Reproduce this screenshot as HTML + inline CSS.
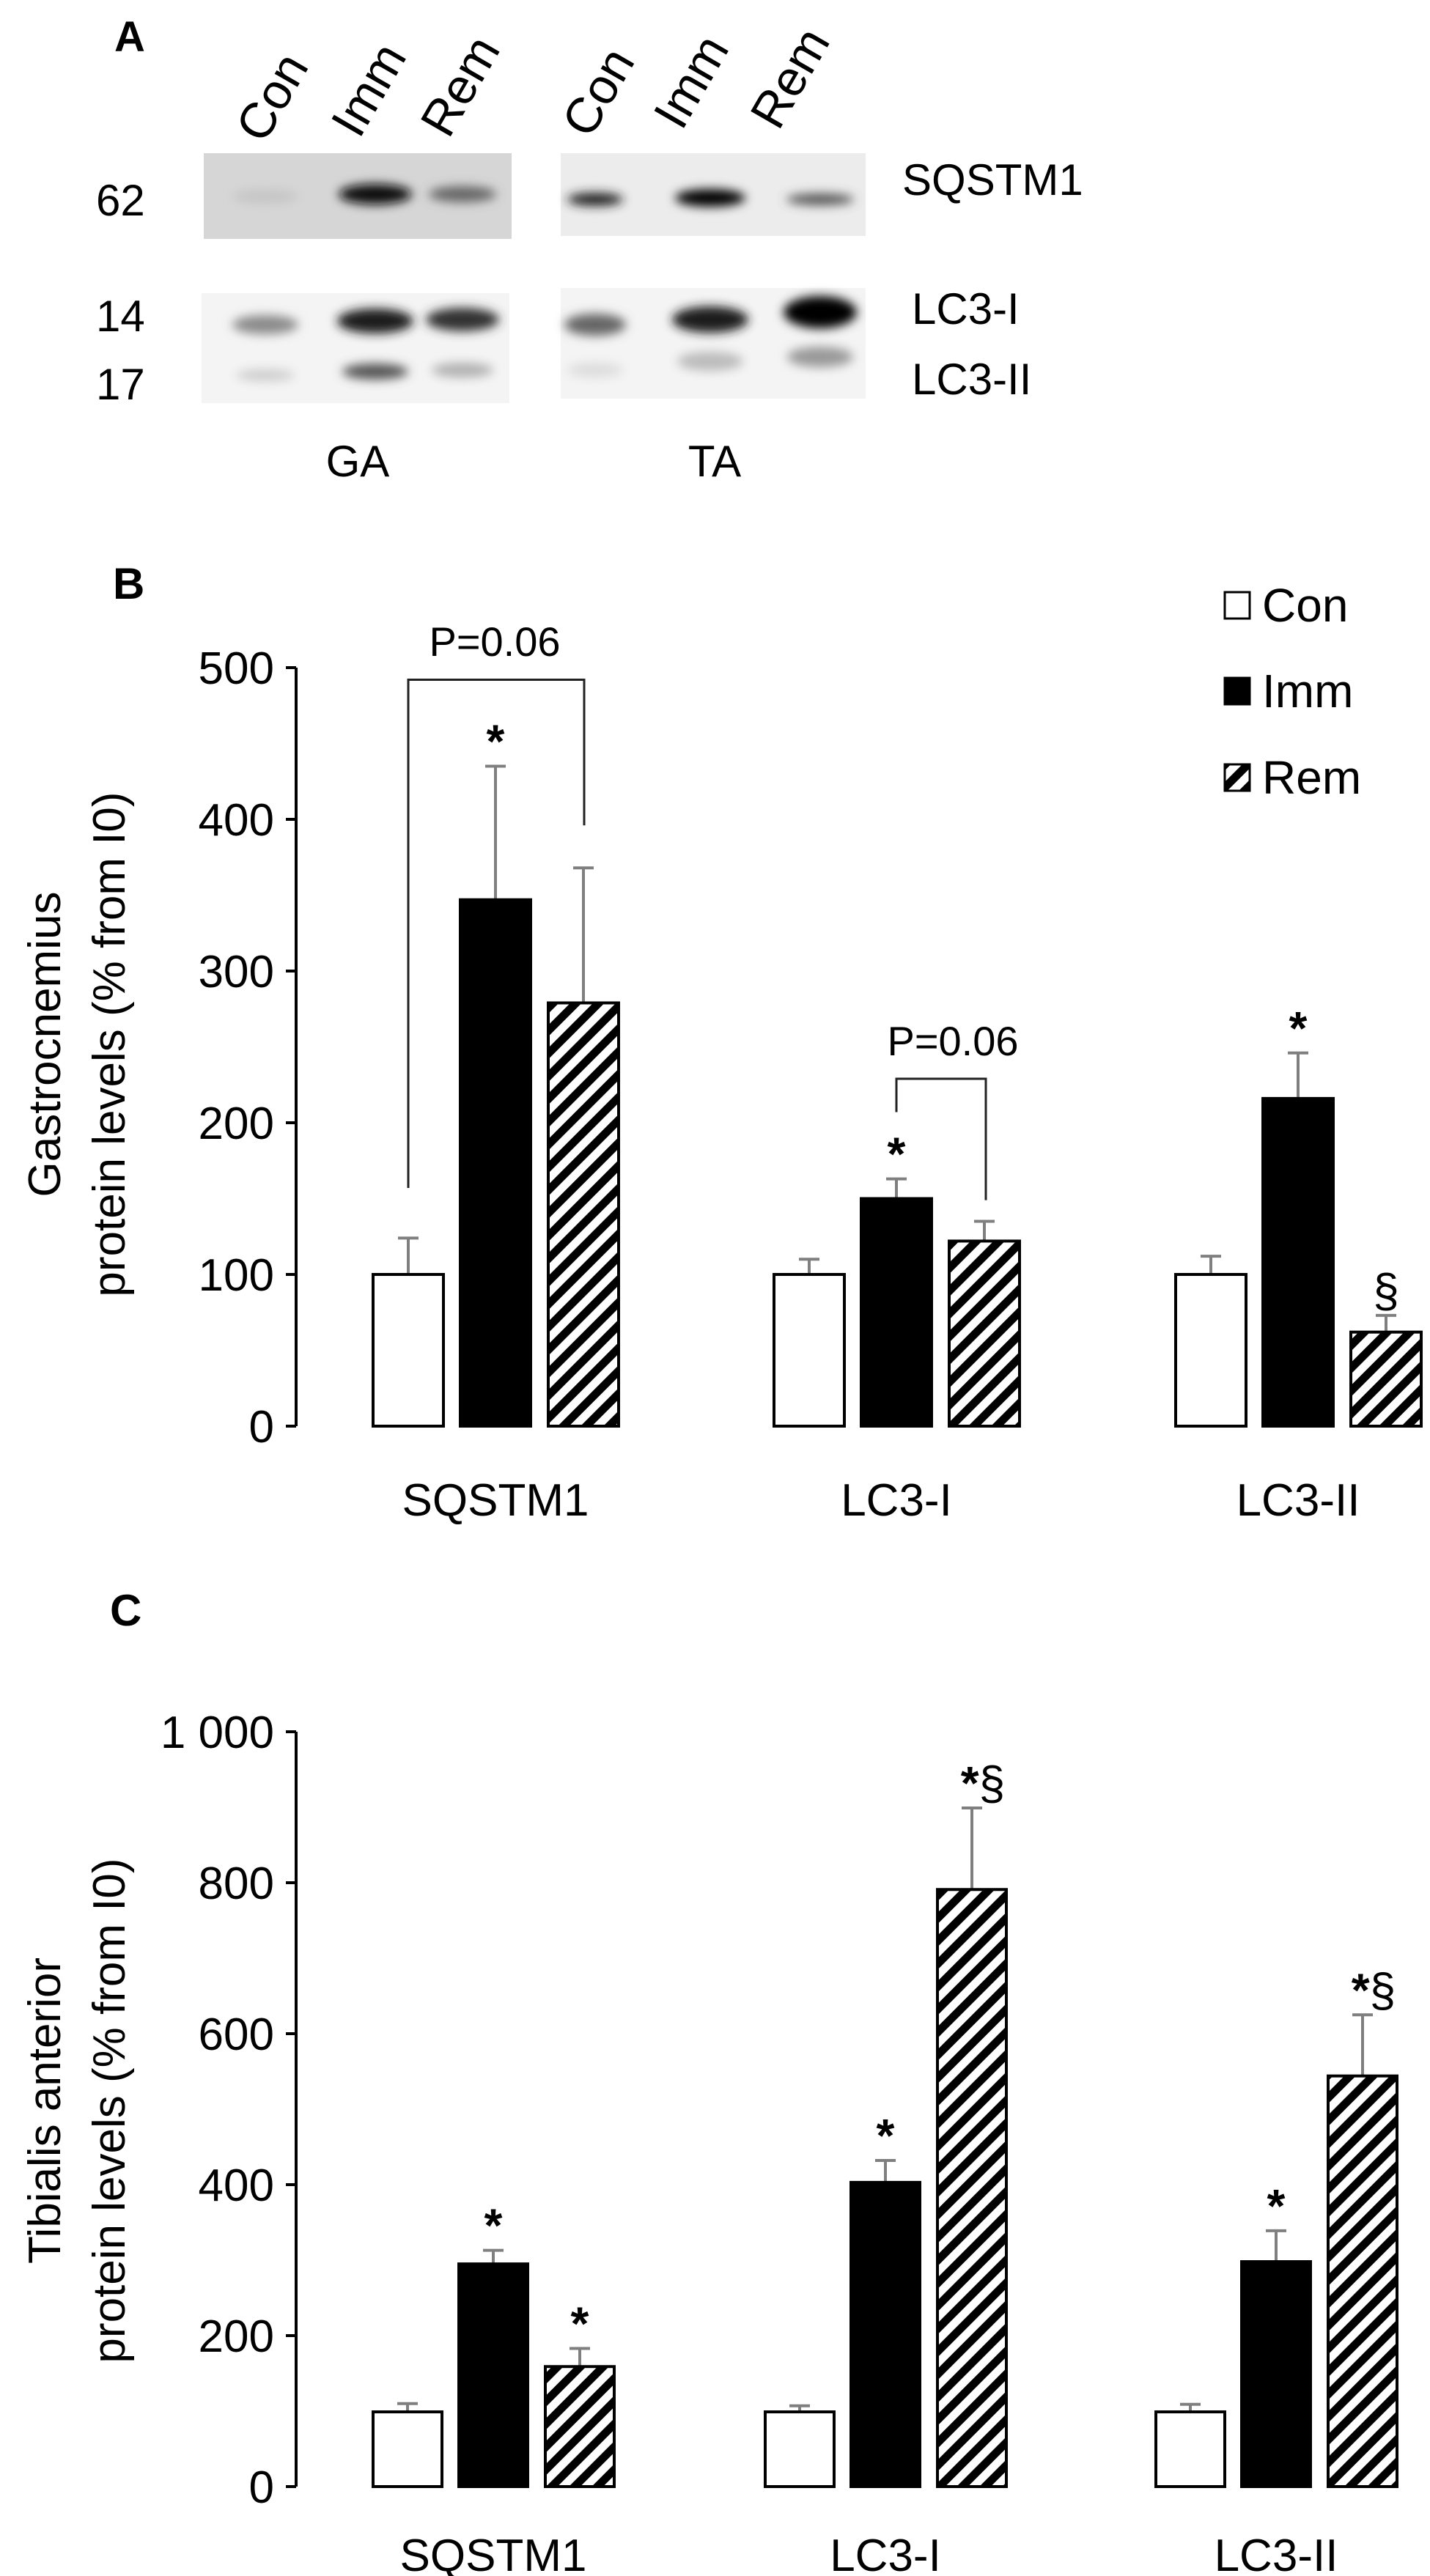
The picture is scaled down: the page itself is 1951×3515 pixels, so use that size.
<!DOCTYPE html>
<html><head><meta charset="utf-8">
<style>
html,body{margin:0;padding:0;background:#fff;}
svg{display:block;font-family:"Liberation Sans",sans-serif;}
</style></head>
<body>
<svg id="fig" width="1951" height="3515" viewBox="0 0 1951 3515" xmlns="http://www.w3.org/2000/svg">
<defs>
  <pattern id="hatch" patternUnits="userSpaceOnUse" width="22" height="22" patternTransform="rotate(45)">
    <rect width="22" height="22" fill="#fff"/>
    <rect x="0" y="0" width="11" height="22" fill="#000"/>
  </pattern>
  <filter id="blur6" x="-50%" y="-200%" width="200%" height="500%"><feGaussianBlur stdDeviation="7"/></filter>
</defs>

<!-- Panel A -->
<g>
  <text x="156" y="70" font-size="58" font-weight="bold">A</text>
  <g font-size="68">
    <text transform="translate(360,198) rotate(-60)">Con</text>
    <text transform="translate(490,191) rotate(-60)">Imm</text>
    <text transform="translate(612,191) rotate(-60)">Rem</text>
    <text transform="translate(805,191) rotate(-60)">Con</text>
    <text transform="translate(930,180) rotate(-60)">Imm</text>
    <text transform="translate(1062,180) rotate(-60)">Rem</text>
  </g>
  <g>
    <rect x="278" y="209" width="420" height="117" fill="#d6d6d6"/>
    <ellipse cx="362" cy="268" rx="45" ry="10" fill="#c6c6c6" filter="url(#blur6)"/>
    <ellipse cx="512" cy="265" rx="50" ry="14" fill="#111" filter="url(#blur6)"/>
    <ellipse cx="631" cy="265" rx="46" ry="11" fill="#666" filter="url(#blur6)"/>
  </g>
  <g>
    <rect x="765" y="209" width="416" height="113" fill="#ececec"/>
    <ellipse cx="812" cy="272" rx="38" ry="9" fill="#222" filter="url(#blur6)"/>
    <ellipse cx="969" cy="270" rx="48" ry="12" fill="#000" filter="url(#blur6)"/>
    <ellipse cx="1119" cy="272" rx="46" ry="8" fill="#555" filter="url(#blur6)"/>
  </g>
  <g>
    <rect x="275" y="400" width="420" height="150" fill="#f4f4f4"/>
    <ellipse cx="362" cy="443" rx="45" ry="13" fill="#8a8a8a" filter="url(#blur6)"/>
    <ellipse cx="512" cy="438" rx="52" ry="17" fill="#1a1a1a" filter="url(#blur6)"/>
    <ellipse cx="631" cy="436" rx="50" ry="16" fill="#333" filter="url(#blur6)"/>
    <ellipse cx="362" cy="512" rx="40" ry="8" fill="#ccc" filter="url(#blur6)"/>
    <ellipse cx="512" cy="507" rx="45" ry="11" fill="#555" filter="url(#blur6)"/>
    <ellipse cx="631" cy="505" rx="42" ry="10" fill="#b0b0b0" filter="url(#blur6)"/>
  </g>
  <g>
    <rect x="765" y="393" width="416" height="151" fill="#f4f4f4"/>
    <ellipse cx="812" cy="443" rx="42" ry="15" fill="#666" filter="url(#blur6)"/>
    <ellipse cx="969" cy="436" rx="52" ry="18" fill="#1a1a1a" filter="url(#blur6)"/>
    <ellipse cx="1119" cy="426" rx="50" ry="22" fill="#000" filter="url(#blur6)"/>
    <ellipse cx="812" cy="505" rx="38" ry="10" fill="#ddd" filter="url(#blur6)"/>
    <ellipse cx="969" cy="493" rx="45" ry="13" fill="#bbb" filter="url(#blur6)"/>
    <ellipse cx="1119" cy="487" rx="45" ry="14" fill="#999" filter="url(#blur6)"/>
  </g>
  <g font-size="60">
    <text x="131" y="294">62</text>
    <text x="131" y="452">14</text>
    <text x="131" y="545">17</text>
    <text x="1231" y="266">SQSTM1</text>
    <text x="1244" y="442">LC3-I</text>
    <text x="1244" y="538">LC3-II</text>
    <text x="488" y="650" text-anchor="middle">GA</text>
    <text x="975" y="650" text-anchor="middle">TA</text>
  </g>
</g>

<g id="panelB"></g>
<g id="panelC"></g>
</svg>

<script>
const categories = ["SQSTM1", "LC3-I", "LC3-II"];
const seriesNames = ["Con", "Imm", "Rem"];
// Panel B (gastrocnemius)
const bCon = [100, 100, 100];
const bImm = [347, 150, 216];
const bRem = [279, 122, 62];
const bConErr = [24, 10, 12];
const bImmErr = [88, 13, 30];
const bRemErr = [89, 13, 11];
// per category: [Con, Imm, Rem]
const bAnnot = [["", "*", ""], ["", "*", ""], ["", "*", "§"]];
const bTicks = ["0", "100", "200", "300", "400", "500"];
const bTickValues = [0, 100, 200, 300, 400, 500];
// Panel C (tibialis anterior)
const cCon = [99, 99, 99];
const cImm = [295, 403, 298];
const cRem = [159, 791, 544];
const cConErr = [11, 8, 10];
const cImmErr = [18, 29, 41];
const cRemErr = [24, 108, 81];
const cAnnot = [["", "*", "*"], ["", "*", "*§"], ["", "*", "*§"]];
const cTicks = ["0", "200", "400", "600", "800", "1 000"];
const cTickValues = [0, 200, 400, 600, 800, 1000];

const NS = "http://www.w3.org/2000/svg";
function mk(tag, attrs, parent) {
  const e = document.createElementNS(NS, tag);
  for (const k in attrs) e.setAttribute(k, attrs[k]);
  parent.appendChild(e);
  return e;
}

function drawPanel(g, cfg) {
  const y = v => cfg.y0 - v * cfg.pxPerUnit;
  const ax = mk("line", {x1: cfg.axisX, x2: cfg.axisX, y1: y(cfg.max), y2: y(0), stroke: "#000", "stroke-width": 4}, g);
  
  
  cfg.tickValues.forEach((tv, i) => {
    const t = mk("line", {x1: cfg.axisX - 14, x2: cfg.axisX, y1: y(tv), y2: y(tv), stroke: "#000", "stroke-width": 4}, g);
    
    
    const lb = mk("text", {x: cfg.axisX - 30, y: y(tv) + 22, "font-size": 62, "text-anchor": "end"}, g);
    lb.textContent = cfg.ticks[i];
    
    
  });
  const series = [cfg.con, cfg.imm, cfg.rem];
  const errs = [cfg.conErr, cfg.immErr, cfg.remErr];
  const fills = ["#fff", "#000", "url(#hatch)"];
  categories.forEach((cat, ci) => {
    for (let s = 0; s < 3; s++) {
      const x = cfg.groupX[ci] + cfg.offsets[s];
      const v = series[s][ci];
      const top = v + errs[s][ci];
      const cx = x + cfg.barW / 2;
      const eb = mk("line", {x1: cx, x2: cx, y1: y(v), y2: y(top), stroke: "#7f7f7f", "stroke-width": 4}, g);
      
      
      const cap = mk("line", {x1: cx - 14, x2: cx + 14, y1: y(top), y2: y(top), stroke: "#7f7f7f", "stroke-width": 4}, g);
      
      
      const r = mk("rect", {x: x, y: y(v), width: cfg.barW, height: y(0) - y(v), fill: fills[s], stroke: "#000", "stroke-width": 4}, g);
      
      
      const an = cfg.annot[ci][s];
      if (an) {
        const t = mk("text", {x: cx + (an.length > 1 ? 15 : 0), y: y(top) - 12, "font-size": 64, "text-anchor": "middle"}, g);
        if (an.indexOf("*") >= 0) {
          const st = mk("tspan", {"font-weight": "bold"}, t);
          st.textContent = "*";
        }
        if (an.indexOf("§") >= 0) {
          const sp = mk("tspan", {}, t);
          sp.textContent = "§";
        }
        
        
      }
    }
    const cl = mk("text", {x: cfg.groupX[ci] + cfg.offsets[1] + cfg.barW / 2, y: cfg.catY, "font-size": 62, "text-anchor": "middle"}, g);
    cl.textContent = cat;
    
    
  });
  return y;
}

const gB = document.getElementById("panelB");
const yB = drawPanel(gB, {
  y0: 1946, pxPerUnit: 2.07, max: 500, axisX: 404,
  ticks: bTicks, tickValues: bTickValues,
  con: bCon, imm: bImm, rem: bRem, conErr: bConErr, immErr: bImmErr, remErr: bRemErr,
  annot: bAnnot, groupX: [509, 1056, 1604], offsets: [0, 119, 239], barW: 96, catY: 2068
});
const gC = document.getElementById("panelC");
const yC = drawPanel(gC, {
  y0: 3393, pxPerUnit: 1.03, max: 1000, axisX: 404,
  ticks: cTicks, tickValues: cTickValues,
  con: cCon, imm: cImm, rem: cRem, conErr: cConErr, immErr: cImmErr, remErr: cRemErr,
  annot: cAnnot, groupX: [509, 1044, 1577], offsets: [0, 117, 235], barW: 94, catY: 3508
});

function txt(parent, attrs, s, name) {
  const t = mk("text", attrs, parent);
  t.textContent = s;
  
  
  return t;
}
txt(gB, {x: 154, y: 817, "font-size": 60, "font-weight": "bold"}, "B", "panel-b-label");
txt(gC, {x: 150, y: 2218, "font-size": 60, "font-weight": "bold"}, "C", "panel-c-label");
txt(gB, {transform: "translate(82,1425) rotate(-90)", "font-size": 62, "text-anchor": "middle"}, "Gastrocnemius", "y-axis-title-line1");
txt(gB, {transform: "translate(170,1425) rotate(-90)", "font-size": 62, "text-anchor": "middle"}, "protein levels (% from I0)", "y-axis-title-line2");
txt(gC, {transform: "translate(82,2880) rotate(-90)", "font-size": 62, "text-anchor": "middle"}, "Tibialis anterior", "y-axis-title-line1");
txt(gC, {transform: "translate(170,2880) rotate(-90)", "font-size": 62, "text-anchor": "middle"}, "protein levels (% from I0)", "y-axis-title-line2");

const legFills = ["#fff", "#000", "url(#hatch)"];
const legY = [808, 925, 1043];
seriesNames.forEach((n, i) => {
  const r = mk("rect", {x: 1671, y: legY[i], width: 34, height: 36, fill: legFills[i], stroke: "#000", "stroke-width": 3}, gB);
  
  
  txt(gB, {x: 1722, y: legY[i] + 40, "font-size": 64}, n, "legend-entry-" + n.toLowerCase());
});

function bracket(x1, y1, x2, y2, yTop, label, lx, ly) {
  const p = mk("path", {d: `M${x1},${y1} V${yTop} H${x2} V${y2}`, fill: "none", stroke: "#222", "stroke-width": 3}, gB);
  
  
  txt(gB, {x: lx, y: ly, "font-size": 56, "text-anchor": "middle"}, label, "p-value-label");
}
bracket(557, yB(157), 797, yB(396), yB(492), "P=0.06", 675, 895);
bracket(1223, yB(207), 1345, yB(149), yB(229), "P=0.06", 1300, 1440);
</script>
</body></html>
